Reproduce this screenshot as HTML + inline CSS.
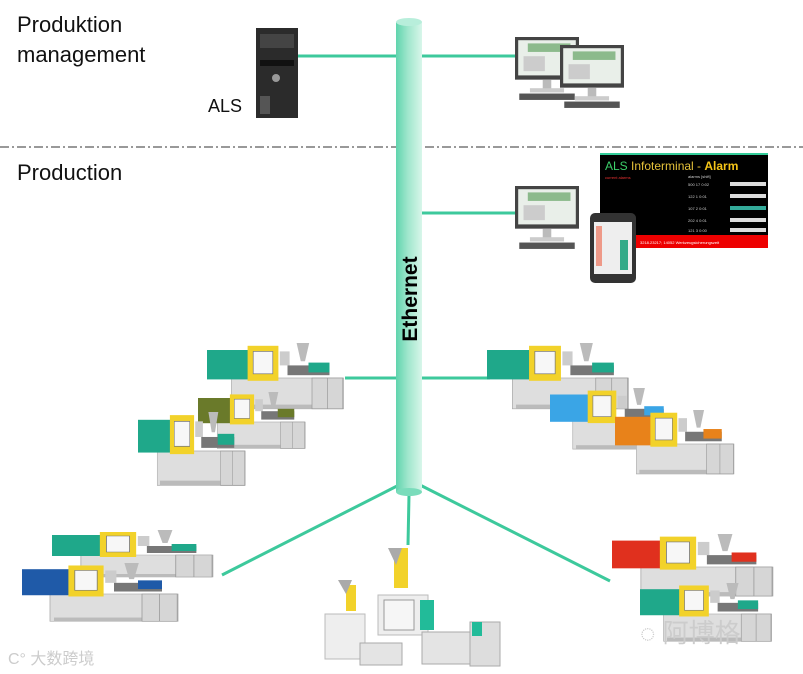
<!DOCTYPE html>
<html><head><meta charset="utf-8"><style>
html,body{margin:0;padding:0;background:#fff;}
svg{display:block;}
text{font-family:"Liberation Sans",Arial,sans-serif;}
</style></head><body>
<svg width="803" height="674" viewBox="0 0 803 674" xmlns="http://www.w3.org/2000/svg">
<defs>
<linearGradient id="cyl" x1="0" x2="1" y1="0" y2="0">
<stop offset="0" stop-color="#5fd4ad"/><stop offset="0.45" stop-color="#9fe6cc"/><stop offset="1" stop-color="#d8f6ea"/>
</linearGradient>
<symbol id="mach" viewBox="0 0 200 100" preserveAspectRatio="none">
<rect x="35" y="50" width="160" height="44" fill="#dedede" stroke="#aaa"/>
<rect x="40" y="88" width="150" height="6" fill="#bbb"/>
<rect x="0" y="10" width="60" height="42" fill="currentColor"/>
<rect x="58" y="4" width="44" height="50" fill="#f2d22a"/>
<rect x="66" y="12" width="28" height="32" fill="#f7f7f7" stroke="#777"/>
<rect x="104" y="12" width="14" height="20" fill="#ccc"/>
<rect x="115" y="32" width="60" height="14" fill="#777"/>
<rect x="145" y="28" width="30" height="14" fill="currentColor"/>
<polygon points="128,0 146,0 140,26 134,26" fill="#bbb"/>
<rect x="150" y="50" width="44" height="44" fill="#d6d6d6" stroke="#999"/>
<line x1="172" y1="50" x2="172" y2="94" stroke="#999"/>
</symbol>
<symbol id="mon" viewBox="0 0 60 60">
<rect x="0" y="0" width="60" height="40" fill="#444"/>
<rect x="3" y="3" width="54" height="33" fill="#e9efe9"/>
<rect x="12" y="6" width="40" height="8" fill="#8cba8c"/>
<rect x="8" y="18" width="20" height="14" fill="#ccc"/>
<rect x="26" y="40" width="8" height="10" fill="#bbb"/>
<rect x="14" y="48" width="32" height="4" fill="#ccc"/>
<rect x="4" y="53" width="52" height="6" fill="#555"/>
</symbol>
</defs>

<text x="17" y="32" font-size="22" fill="#111">Produktion</text>
<text x="17" y="62" font-size="22" fill="#111">management</text>
<text x="17" y="180" font-size="22" fill="#111">Production</text>
<text x="208" y="112" font-size="18" fill="#111">ALS</text>

<line x1="0" y1="147" x2="803" y2="147" stroke="#333" stroke-width="1" stroke-dasharray="9,3,2,3"/>

<g stroke="#3dc99c" stroke-width="3" fill="none">
<line x1="296" y1="56" x2="396" y2="56"/>
<line x1="422" y1="56" x2="515" y2="56"/>
<line x1="422" y1="213" x2="515" y2="213"/>
<line x1="345" y1="378" x2="396" y2="378"/>
<line x1="422" y1="378" x2="490" y2="378"/>
<line x1="399" y1="485" x2="222" y2="575"/>
<line x1="420" y1="485" x2="610" y2="581"/>
<line x1="409" y1="495" x2="408" y2="545"/>
</g>

<rect x="396" y="22" width="26" height="470" fill="url(#cyl)"/>
<ellipse cx="409" cy="22" rx="13" ry="4" fill="#b8eedb"/>
<ellipse cx="409" cy="492" rx="13" ry="4" fill="#7adcbb"/>
<text transform="translate(417,299) rotate(-90)" text-anchor="middle" font-size="21" font-weight="bold" fill="#000">Ethernet</text>

<rect x="256" y="28" width="42" height="90" fill="#2b2b2b"/>
<rect x="260" y="34" width="34" height="14" fill="#444"/>
<rect x="260" y="60" width="34" height="6" fill="#111"/>
<circle cx="276" cy="78" r="4" fill="#999"/>
<rect x="260" y="96" width="10" height="18" fill="#555"/>

<use href="#mon" x="515" y="36" width="64" height="66"/>
<use href="#mon" x="560" y="44" width="64" height="66"/>
<use href="#mon" x="515" y="182" width="64" height="72"/>

<rect x="600" y="153" width="168" height="95" fill="#000"/>
<rect x="600" y="153" width="168" height="2" fill="#3c9"/>
<text x="605" y="170" font-size="12" fill="#3ccf6a">ALS <tspan fill="#e6c23a">Infoterminal - </tspan><tspan fill="#f5c518" font-weight="bold">Alarm</tspan></text>
<text x="605" y="179" font-size="4" fill="#e33">current alarms</text>
<g fill="#ccc" font-size="4">
<text x="688" y="178">alarms [shift]</text>
<text x="688" y="186">500 17 0:02</text><rect x="730" y="182" width="36" height="4" fill="#ddd"/>
<text x="688" y="198">122 1 0:01</text><rect x="730" y="194" width="36" height="4" fill="#ddd"/>
<text x="688" y="210">107 2 0:01</text><rect x="730" y="206" width="36" height="4" fill="#3a9"/>
<text x="688" y="222">202 4 0:01</text><rect x="730" y="218" width="36" height="4" fill="#ddd"/>
<text x="688" y="232">121 3 0:00</text><rect x="730" y="228" width="36" height="4" fill="#ddd"/>
</g>
<rect x="600" y="235" width="168" height="13" fill="#e00"/>
<text x="640" y="244" font-size="4" fill="#fff">3218.23217; 14052 Werkzeugsicherungszeit</text>
<rect x="590" y="213" width="46" height="70" rx="5" fill="#333"/>
<rect x="594" y="222" width="38" height="52" fill="#eee"/>
<rect x="596" y="226" width="6" height="40" fill="#e98"/>
<rect x="620" y="240" width="8" height="30" fill="#3a8"/>

<use href="#mach" x="207" y="343" width="140" height="70" style="color:#1fa88a"/>
<use href="#mach" x="198" y="392" width="110" height="60" style="color:#6a7a2a"/>
<use href="#mach" x="138" y="412" width="110" height="78" style="color:#1fa88a"/>
<use href="#mach" x="487" y="343" width="145" height="70" style="color:#1fa88a"/>
<use href="#mach" x="550" y="388" width="130" height="65" style="color:#3aa5e6"/>
<use href="#mach" x="615" y="410" width="122" height="68" style="color:#e8821a"/>
<use href="#mach" x="52" y="530" width="165" height="50" style="color:#1fa88a"/>
<use href="#mach" x="22" y="563" width="160" height="62" style="color:#1f5aa8"/>
<use href="#mach" x="612" y="534" width="165" height="66" style="color:#e0301e"/>
<use href="#mach" x="640" y="583" width="135" height="62" style="color:#1fa88a"/>

<g>
<rect x="394" y="548" width="14" height="40" fill="#f2d22a"/>
<polygon points="388,548 402,548 396,565" fill="#aaa"/>
<rect x="378" y="595" width="50" height="40" fill="#eee" stroke="#bbb"/>
<rect x="384" y="600" width="30" height="30" fill="#f6f6f6" stroke="#999"/>
<rect x="420" y="600" width="14" height="30" fill="#2b9"/>
<rect x="346" y="585" width="10" height="26" fill="#f2d22a"/>
<polygon points="338,580 352,580 346,594" fill="#aaa"/>
<rect x="325" y="614" width="40" height="45" fill="#eee" stroke="#bbb"/>
<rect x="360" y="643" width="42" height="22" fill="#e4e4e4" stroke="#aaa"/>
<rect x="422" y="632" width="56" height="32" fill="#e4e4e4" stroke="#aaa"/>
<rect x="470" y="622" width="30" height="44" fill="#ddd" stroke="#aaa"/>
<rect x="472" y="622" width="10" height="14" fill="#2b9"/>
</g>

<text x="8" y="664" font-size="16" fill="#ccc" font-family="'Liberation Sans','Noto Sans CJK SC',sans-serif">C° 大数跨境</text>
<text x="640" y="642" font-size="26" fill="#ccc" font-family="'Liberation Sans','Noto Sans CJK SC',sans-serif">◌ 阿博格</text>
</svg>
</body></html>
